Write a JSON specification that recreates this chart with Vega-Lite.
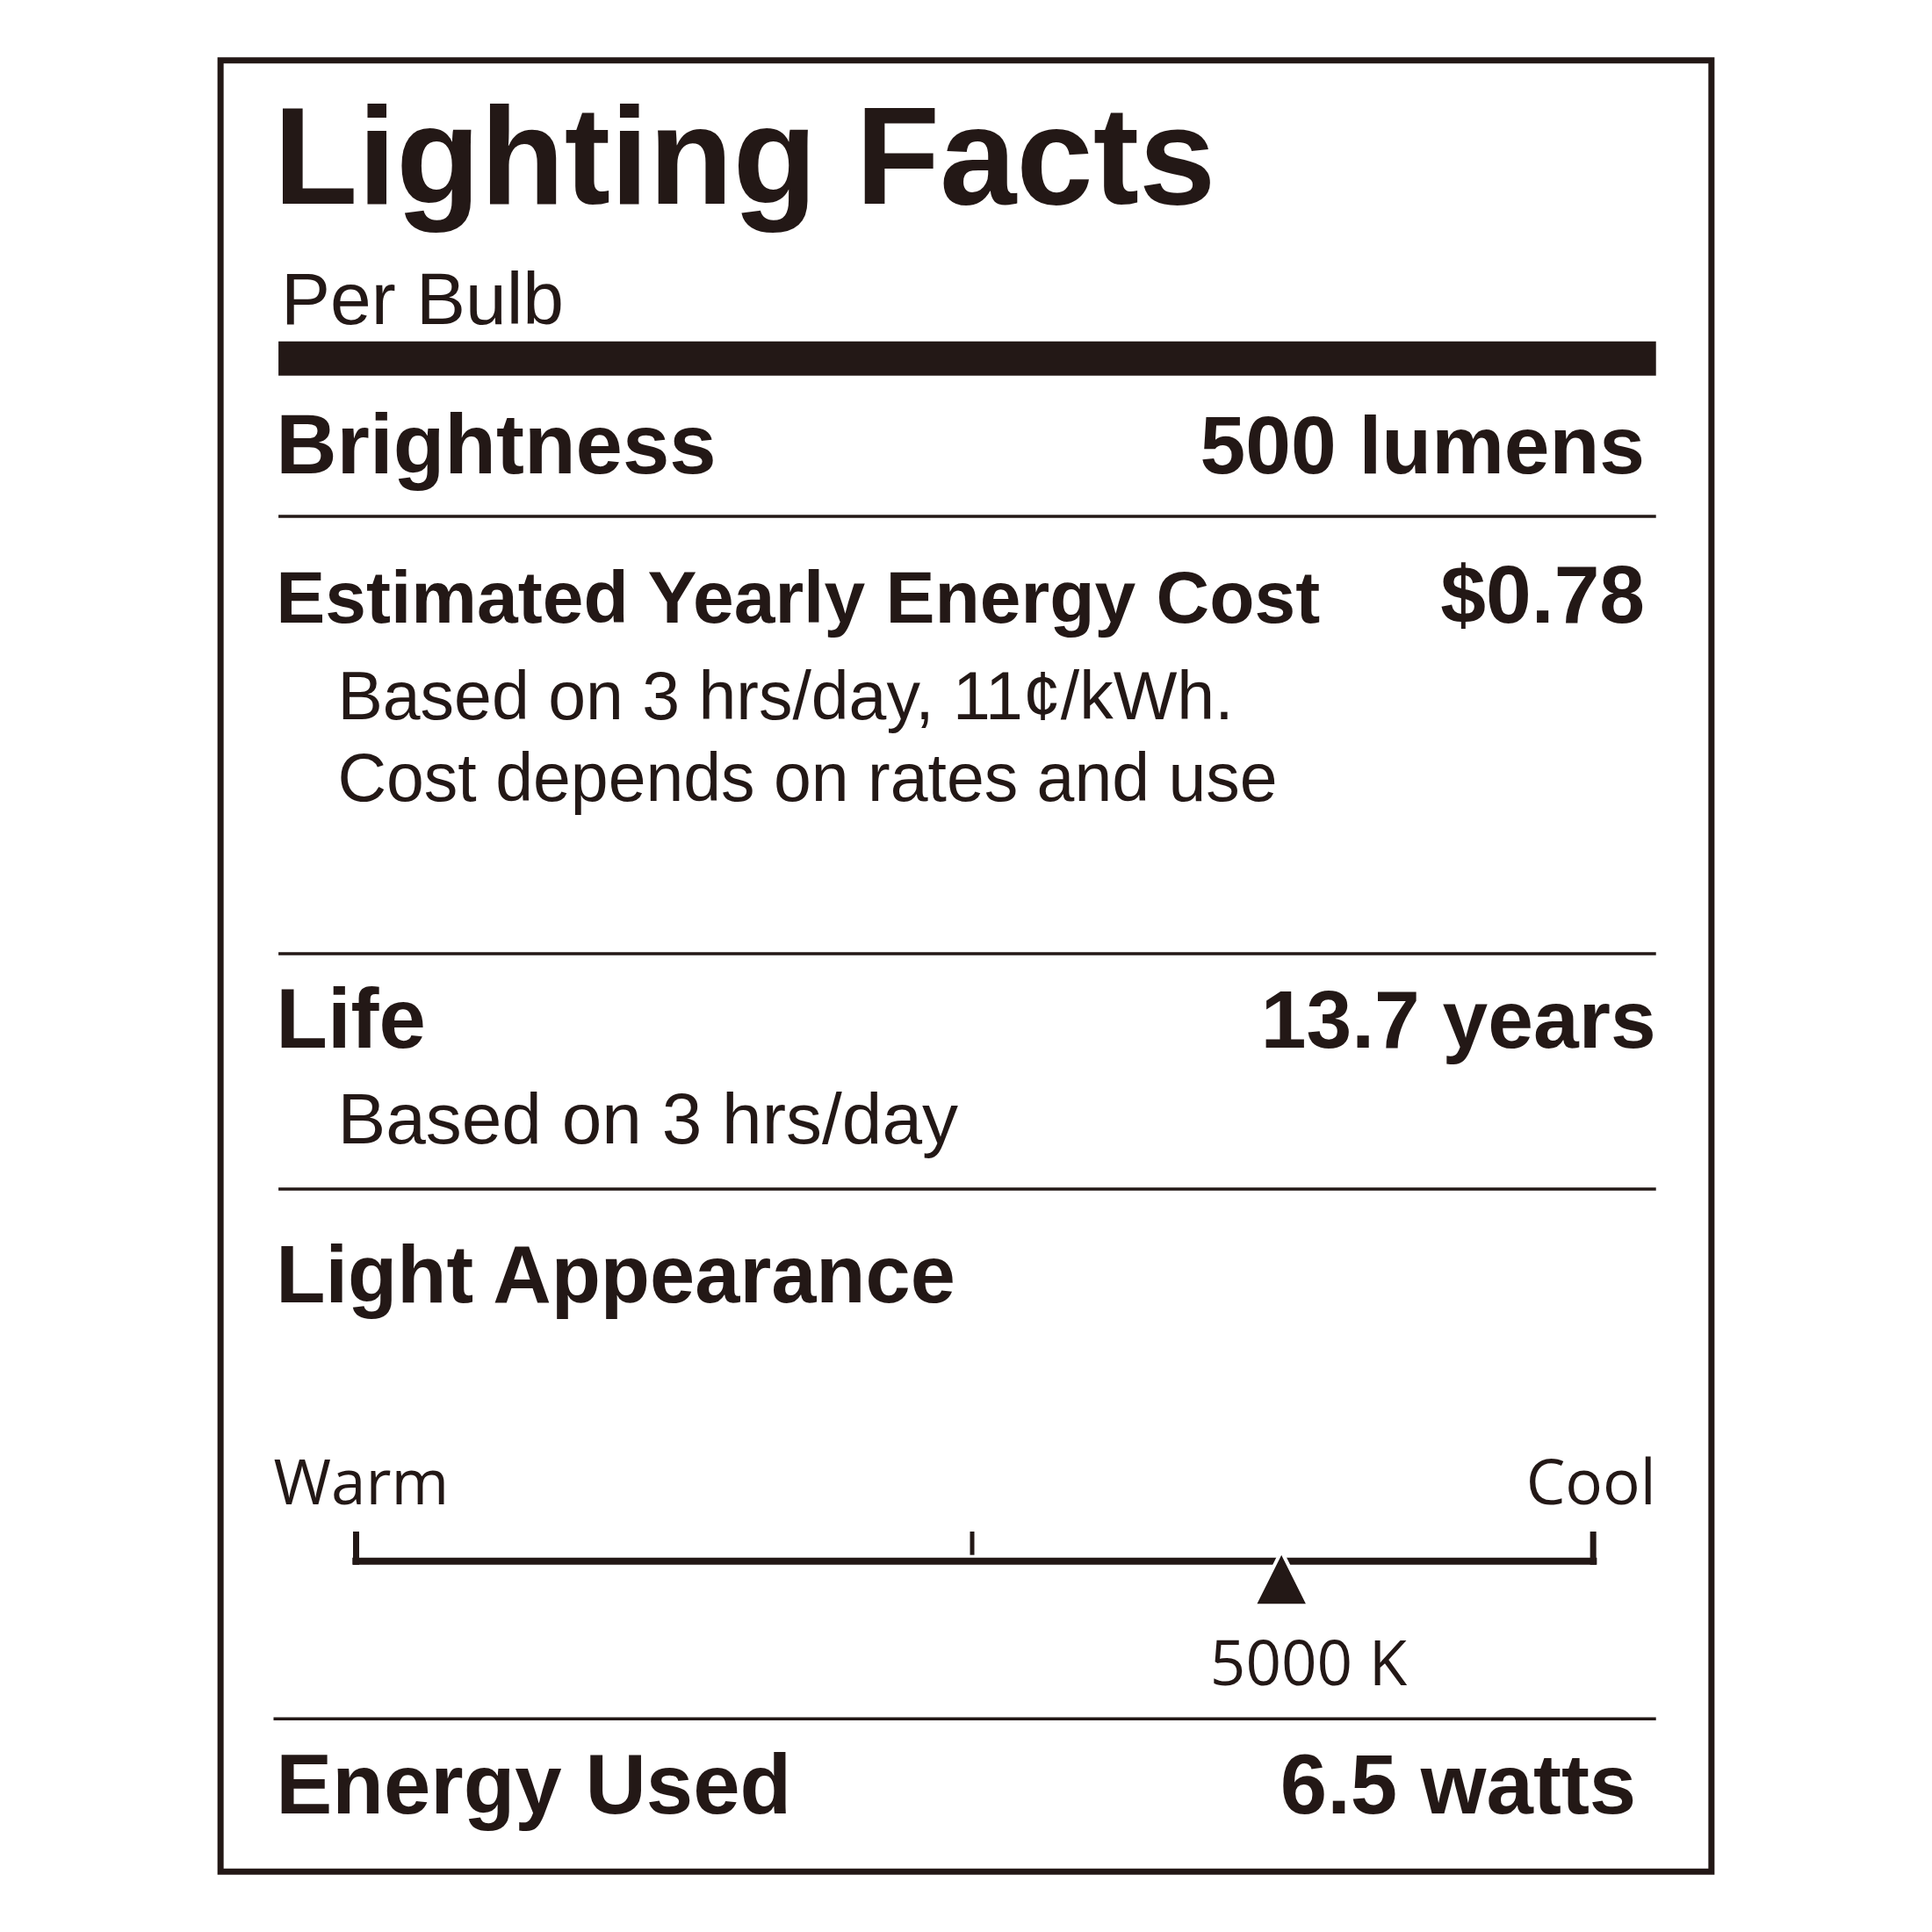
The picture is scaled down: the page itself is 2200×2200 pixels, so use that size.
{
  "$schema": "https://vega.github.io/schema/vega-lite/v6.json",
  "width": 2200,
  "height": 2200,
  "padding": 0,
  "autosize": {"type": "fit", "contains": "padding"},
  "background": "white",
  "datasets": {
    "texts": [
      {"text": "Lighting Facts", "x": 222, "y": 165, "role": "title"},
      {"text": "Per Bulb", "x": 228, "y": 263, "role": "sub"},
      {"text": "Brightness", "x": 224, "y": 384, "role": "head"},
      {"text": "500 lumens", "x": 1335, "y": 384, "role": "value"},
      {"text": "Estimated Yearly Energy Cost", "x": 224, "y": 505, "role": "headc"},
      {"text": "$0.78", "x": 1335, "y": 505, "role": "value"},
      {"text": "Based on 3 hrs/day, 11¢/kWh.", "x": 274, "y": 584, "role": "body"},
      {"text": "Cost depends on rates and use", "x": 274, "y": 650, "role": "body"},
      {"text": "Life", "x": 224, "y": 850, "role": "head"},
      {"text": "13.7 years", "x": 1344, "y": 850, "role": "value"},
      {"text": "Based on 3 hrs/day", "x": 274, "y": 928, "role": "bodyl"},
      {"text": "Light Appearance", "x": 224, "y": 1057, "role": "headn"},
      {"text": "Warm", "x": 222, "y": 1221, "role": "scaleL"},
      {"text": "Cool", "x": 1344, "y": 1221, "role": "scaleR"},
      {"text": "5000 K", "x": 982, "y": 1368, "role": "scaleL"},
      {"text": "Energy Used", "x": 224, "y": 1472, "role": "head"},
      {"text": "6.5 watts", "x": 1328, "y": 1472, "role": "valuel"}
    ],
    "lines": [
      {"x": 226, "x2": 1344, "y": 291, "role": "heavy"},
      {"x": 226, "x2": 1344, "y": 419, "role": "thin"},
      {"x": 226, "x2": 1344, "y": 774, "role": "thin"},
      {"x": 226, "x2": 1344, "y": 965, "role": "thin"},
      {"x": 222, "x2": 1344, "y": 1395, "role": "thin"},
      {"x": 286, "x2": 1296, "y": 1267, "role": "scale"},
      {"x": 289, "y": 1243, "y2": 1270, "role": "tick"},
      {"x": 1293, "y": 1243, "y2": 1270, "role": "tick"},
      {"x": 789, "y": 1243, "y2": 1262, "role": "mid"}
    ],
    "frame": [{"x": 179, "x2": 1389, "y": 49, "y2": 1519}],
    "marker": [{"x": 1040, "y": 1281, "kelvin": 5000}]
  },
  "encoding": {
    "x": {"field": "x", "type": "quantitative", "scale": {"domain": [0, 1568]}, "axis": null},
    "y": {"field": "y", "type": "quantitative", "scale": {"domain": [0, 1568], "reverse": true}, "axis": null}
  },
  "layer": [
    {
      "data": {"name": "frame"},
      "mark": {"type": "rect", "fill": null, "stroke": "#231816", "strokeWidth": 7},
      "encoding": {"x2": {"field": "x2"}, "y2": {"field": "y2"}}
    },
    {
      "data": {"name": "lines"},
      "transform": [{"filter": "datum.role == 'heavy'"}],
      "mark": {"type": "rule", "color": "#231816", "strokeWidth": 39},
      "encoding": {"x2": {"field": "x2"}}
    },
    {
      "data": {"name": "lines"},
      "transform": [{"filter": "datum.role == 'thin'"}],
      "mark": {"type": "rule", "color": "#231816", "strokeWidth": 3.5},
      "encoding": {"x2": {"field": "x2"}}
    },
    {
      "data": {"name": "lines"},
      "transform": [{"filter": "datum.role == 'scale'"}],
      "mark": {"type": "rule", "color": "#231816", "strokeWidth": 8},
      "encoding": {"x2": {"field": "x2"}}
    },
    {
      "data": {"name": "lines"},
      "transform": [{"filter": "datum.role == 'tick'"}],
      "mark": {"type": "rule", "color": "#231816", "strokeWidth": 7},
      "encoding": {"y2": {"field": "y2"}}
    },
    {
      "data": {"name": "lines"},
      "transform": [{"filter": "datum.role == 'mid'"}],
      "mark": {"type": "rule", "color": "#231816", "strokeWidth": 5},
      "encoding": {"y2": {"field": "y2"}}
    },
    {
      "data": {"name": "marker"},
      "mark": {"type": "point", "shape": "M0,-1L-1,1L1,1Z", "filled": true, "fill": "#231816", "stroke": "white", "strokeWidth": 4, "size": 3844, "opacity": 1}
    },
    {
      "data": {"name": "texts"},
      "transform": [{"filter": "datum.role == 'title'"}],
      "mark": {"type": "text", "align": "left", "baseline": "alphabetic", "font": "Liberation Sans", "fontWeight": "bold", "fontSize": 157, "color": "#231816"},
      "encoding": {"text": {"field": "text"}}
    },
    {
      "data": {"name": "texts"},
      "transform": [{"filter": "datum.role == 'sub'"}],
      "mark": {"type": "text", "align": "left", "baseline": "alphabetic", "font": "Liberation Sans", "fontSize": 84, "color": "#231816"},
      "encoding": {"text": {"field": "text"}}
    },
    {
      "data": {"name": "texts"},
      "transform": [{"filter": "datum.role == 'head'"}],
      "mark": {"type": "text", "align": "left", "baseline": "alphabetic", "font": "Liberation Sans", "fontWeight": "bold", "fontSize": 96, "color": "#231816"},
      "encoding": {"text": {"field": "text"}}
    },
    {
      "data": {"name": "texts"},
      "transform": [{"filter": "datum.role == 'headn'"}],
      "mark": {"type": "text", "align": "left", "baseline": "alphabetic", "font": "Liberation Sans", "fontWeight": "bold", "fontSize": 92, "color": "#231816"},
      "encoding": {"text": {"field": "text"}}
    },
    {
      "data": {"name": "texts"},
      "transform": [{"filter": "datum.role == 'headc'"}],
      "mark": {"type": "text", "align": "left", "baseline": "alphabetic", "font": "Liberation Sans", "fontWeight": "bold", "fontSize": 84, "color": "#231816"},
      "encoding": {"text": {"field": "text"}}
    },
    {
      "data": {"name": "texts"},
      "transform": [{"filter": "datum.role == 'value'"}],
      "mark": {"type": "text", "align": "right", "baseline": "alphabetic", "font": "Liberation Sans", "fontWeight": "bold", "fontSize": 93, "color": "#231816"},
      "encoding": {"text": {"field": "text"}}
    },
    {
      "data": {"name": "texts"},
      "transform": [{"filter": "datum.role == 'valuel'"}],
      "mark": {"type": "text", "align": "right", "baseline": "alphabetic", "font": "Liberation Sans", "fontWeight": "bold", "fontSize": 96, "color": "#231816"},
      "encoding": {"text": {"field": "text"}}
    },
    {
      "data": {"name": "texts"},
      "transform": [{"filter": "datum.role == 'body'"}],
      "mark": {"type": "text", "align": "left", "baseline": "alphabetic", "font": "Liberation Sans", "fontSize": 77, "color": "#231816"},
      "encoding": {"text": {"field": "text"}}
    },
    {
      "data": {"name": "texts"},
      "transform": [{"filter": "datum.role == 'bodyl'"}],
      "mark": {"type": "text", "align": "left", "baseline": "alphabetic", "font": "Liberation Sans", "fontSize": 82, "color": "#231816"},
      "encoding": {"text": {"field": "text"}}
    },
    {
      "data": {"name": "texts"},
      "transform": [{"filter": "datum.role == 'scaleL'"}],
      "mark": {"type": "text", "align": "left", "baseline": "alphabetic", "font": "Open Sans", "fontSize": 71, "color": "#231816"},
      "encoding": {"text": {"field": "text"}}
    },
    {
      "data": {"name": "texts"},
      "transform": [{"filter": "datum.role == 'scaleR'"}],
      "mark": {"type": "text", "align": "right", "baseline": "alphabetic", "font": "Open Sans", "fontSize": 71, "color": "#231816"},
      "encoding": {"text": {"field": "text"}}
    }
  ],
  "config": {"view": {"stroke": null}}
}
